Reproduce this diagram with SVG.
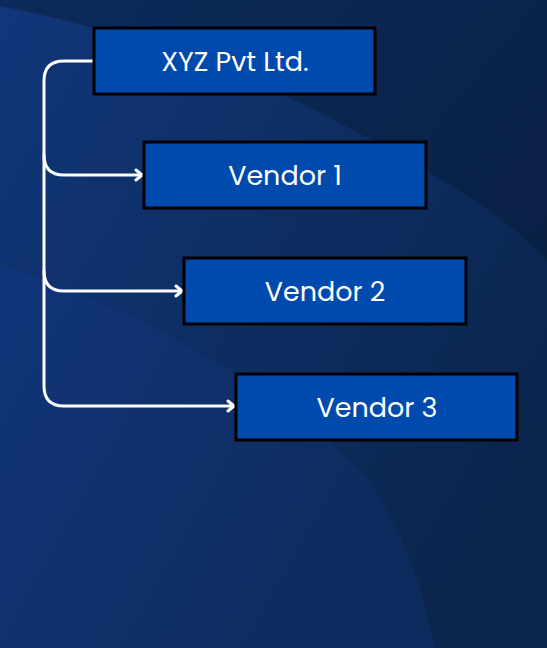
<svg xmlns="http://www.w3.org/2000/svg" width="547" height="648" viewBox="0 0 547 648">
<defs>
<linearGradient id="bg" x1="0" y1="0" x2="1" y2="1">
<stop offset="0" stop-color="#0c2a5a"/>
<stop offset="1" stop-color="#091d3d"/>
</linearGradient>
<linearGradient id="band1" x1="0" y1="0" x2="1" y2="0.7">
<stop offset="0" stop-color="#11367a"/>
<stop offset="0.6" stop-color="#0d2c5e"/>
<stop offset="1" stop-color="#0b244c"/>
</linearGradient>
<linearGradient id="band2" x1="0" y1="0" x2="1" y2="0.5">
<stop offset="0" stop-color="#11357a"/>
<stop offset="1" stop-color="#0d2b5c"/>
</linearGradient>
<marker id="arr" viewBox="0 0 14 14" refX="11" refY="7" markerWidth="14" markerHeight="14" markerUnits="userSpaceOnUse" orient="auto">
<path d="M5,2 L11,7 L5,12" fill="none" stroke="#ffffff" stroke-width="3" stroke-linecap="round" stroke-linejoin="round"/>
</marker>
<style>
.box{fill:#004aad;stroke:#000000;stroke-width:3}
.lbl{font-family:Poppins,"Noto Sans",Inter,"Liberation Sans",sans-serif;font-size:27px;fill:#ffffff;text-anchor:middle}
.con{fill:none;stroke:#ffffff;stroke-width:3;stroke-linecap:round;stroke-linejoin:round}
</style>
</defs>
<rect width="547" height="648" fill="url(#bg)"/>
<path d="M0,6 C120,30 240,70 330,118 C420,165 500,210 547,260 L547,648 L0,648 Z" fill="url(#band1)"/>
<path d="M0,265 C140,310 280,390 360,470 C400,520 420,580 435,648 L0,648 Z" fill="url(#band2)"/>
<g id="connectors">
<path class="con" d="M94,61 L64,61 Q44,61 44,81 L44,386 Q44,406 64,406 L234,406" marker-end="url(#arr)"/>
<path class="con" d="M44,155 Q44,175 64,175 L142,175" marker-end="url(#arr)"/>
<path class="con" d="M44,271 Q44,291 64,291 L182,291" marker-end="url(#arr)"/>
</g>
<g id="node-xyz">
<rect class="box" x="94" y="28" width="281" height="66"/>
<text class="lbl" x="235" y="71">XYZ Pvt Ltd.</text>
</g>
<g id="node-vendor1">
<rect class="box" x="144" y="142" width="282" height="66"/>
<text class="lbl" x="285" y="185">Vendor 1</text>
</g>
<g id="node-vendor2">
<rect class="box" x="184" y="258" width="282" height="66"/>
<text class="lbl" x="325" y="301">Vendor 2</text>
</g>
<g id="node-vendor3">
<rect class="box" x="236" y="374" width="281" height="66"/>
<text class="lbl" x="377" y="417">Vendor 3</text>
</g>
</svg>
